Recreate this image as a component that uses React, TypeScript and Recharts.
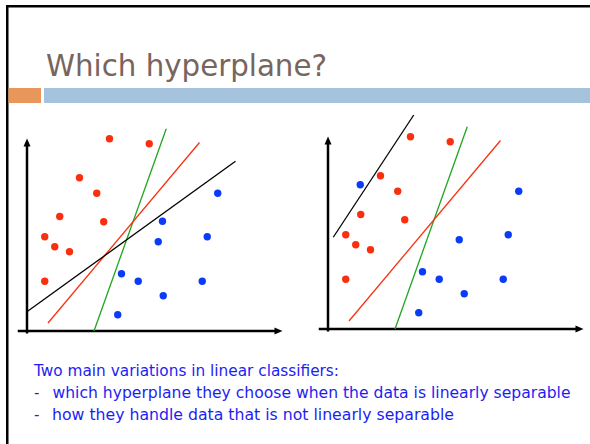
import React from 'react';
import { ScatterChart, Scatter, XAxis, YAxis } from 'recharts';

type Pt = { x: number; y: number };

// Same class-1 cloud in both panels
const redPoints: Pt[] = [
  { x: 3.3, y: 7.69 },
  { x: 4.89, y: 7.49 },
  { x: 2.1, y: 6.13 },
  { x: 2.79, y: 5.51 },
  { x: 1.31, y: 4.58 },
  { x: 3.07, y: 4.37 },
  { x: 0.71, y: 3.77 },
  { x: 1.11, y: 3.37 },
  { x: 1.7, y: 3.17 },
  { x: 0.71, y: 1.99 },
];

const bluePointsLeft: Pt[] = [
  { x: 7.63, y: 5.51 },
  { x: 5.42, y: 4.39 },
  { x: 7.21, y: 3.77 },
  { x: 5.25, y: 3.57 },
  { x: 3.78, y: 2.29 },
  { x: 4.45, y: 1.99 },
  { x: 7.01, y: 1.99 },
  { x: 5.45, y: 1.41 },
  { x: 3.63, y: 0.65 },
];

// right panel: one blue point sits inside the red cloud
const bluePointsRight: Pt[] = [
  { x: 1.29, y: 5.77 },
  { x: 7.63, y: 5.51 },
  { x: 7.21, y: 3.77 },
  { x: 5.25, y: 3.57 },
  { x: 3.78, y: 2.29 },
  { x: 4.45, y: 1.99 },
  { x: 7.01, y: 1.99 },
  { x: 5.45, y: 1.41 },
  { x: 3.63, y: 0.65 },
];

const greenLine: Pt[] = [{ x: 2.68, y: 0 }, { x: 5.57, y: 8.09 }];
const redLine: Pt[] = [{ x: 0.84, y: 0.32 }, { x: 6.9, y: 7.54 }];
const blackLineLeft: Pt[] = [{ x: 0.01, y: 0.78 }, { x: 8.34, y: 6.79 }];
const blackLineRight: Pt[] = [{ x: 0.21, y: 3.67 }, { x: 3.43, y: 8.56 }];

const xAxisLine: Pt[] = [{ x: -0.37, y: 0 }, { x: 10.05, y: 0 }];
const yAxisLine: Pt[] = [{ x: 0, y: -0.1 }, { x: 0, y: 7.55 }];
const xArrowTip: Pt[] = [{ x: 10.22, y: 0 }];
const yArrowTip: Pt[] = [{ x: 0, y: 7.7 }];

const titleText = 'Which hyperplane?';
const introText = 'Two main variations in linear classifiers:';
const bulletLines = [
  'which hyperplane they choose when the data is linearly separable',
  'how they handle data that is not linearly separable',
];

const RED = '#f9300f';
const BLUE = '#0a3cf8';
const GREEN = '#1fa51f';
const TEXT_BLUE = '#1e1ef2';

const noMark = () => <g />;

const dot = (color: string) => (p: any) => (
  <circle cx={p.cx} cy={p.cy} r={3.7} fill={color} />
);

const arrowRight = (p: any) => (
  <polygon
    points={`${p.cx},${p.cy} ${p.cx - 8},${p.cy - 3.5} ${p.cx - 8},${p.cy + 3.5}`}
    fill="#000"
  />
);

const arrowUp = (p: any) => (
  <polygon
    points={`${p.cx},${p.cy} ${p.cx - 3.5},${p.cy + 8} ${p.cx + 3.5},${p.cy + 8}`}
    fill="#000"
  />
);

interface PanelProps {
  left: number;
  top: number;
  blue: Pt[];
  black: Pt[];
}

function Panel({ left, top, blue, black }: PanelProps) {
  return (
    <div style={{ position: 'absolute', left, top }}>
      <ScatterChart width={270} height={230} margin={{ top: 0, right: 0, bottom: 0, left: 0 }}>
        <XAxis type="number" dataKey="x" domain={[-0.4, 10.4]} hide allowDataOverflow />
        <YAxis type="number" dataKey="y" domain={[-0.2, 9]} hide allowDataOverflow />
        <Scatter data={xAxisLine} line={{ stroke: '#000', strokeWidth: 2.5 }} shape={noMark} isAnimationActive={false} />
        <Scatter data={yAxisLine} line={{ stroke: '#000', strokeWidth: 2.5 }} shape={noMark} isAnimationActive={false} />
        <Scatter data={xArrowTip} shape={arrowRight} isAnimationActive={false} />
        <Scatter data={yArrowTip} shape={arrowUp} isAnimationActive={false} />
        <Scatter data={greenLine} line={{ stroke: GREEN, strokeWidth: 1.3 }} shape={noMark} isAnimationActive={false} />
        <Scatter data={redLine} line={{ stroke: RED, strokeWidth: 1.3 }} shape={noMark} isAnimationActive={false} />
        <Scatter data={black} line={{ stroke: '#000', strokeWidth: 1.3 }} shape={noMark} isAnimationActive={false} />
        <Scatter data={redPoints} shape={dot(RED)} isAnimationActive={false} />
        <Scatter data={blue} shape={dot(BLUE)} isAnimationActive={false} />
      </ScatterChart>
    </div>
  );
}

export default function App() {
  const font = '"DejaVu Sans", sans-serif';
  return (
    <div style={{ position: 'absolute', left: 0, top: 0, width: 590, height: 444, background: '#fff', overflow: 'hidden' }}>
      <svg width={590} height={444} style={{ position: 'absolute', left: 0, top: 0 }}>
        {/* slide frame */}
        <rect x={6} y={5} width={590} height={2.5} fill="#000" />
        <rect x={6} y={5} width={2.5} height={444} fill="#000" />
        <rect x={8.5} y={88} width={32.5} height={15} fill="#e8965a" />
        <rect x={44} y={88} width={546} height={15} fill="#a5c3dc" />
        <text x={46} y={76} fontFamily={font} fontSize={30} fill="#78655d" textLength={281} lengthAdjust="spacingAndGlyphs">
          {titleText}
        </text>
        <text x={34} y={375.5} fontFamily={font} fontSize={15} fill={TEXT_BLUE} textLength={305} lengthAdjust="spacingAndGlyphs">
          {introText}
        </text>
        <text x={34} y={398} fontFamily={font} fontSize={15} fill={TEXT_BLUE}>-</text>
        <text x={52.5} y={398} fontFamily={font} fontSize={15} fill={TEXT_BLUE} textLength={518} lengthAdjust="spacingAndGlyphs">
          {bulletLines[0]}
        </text>
        <text x={34} y={419.5} fontFamily={font} fontSize={15} fill={TEXT_BLUE}>-</text>
        <text x={52} y={419.5} fontFamily={font} fontSize={15} fill={TEXT_BLUE} textLength={402} lengthAdjust="spacingAndGlyphs">
          {bulletLines[1]}
        </text>
      </svg>
      <Panel left={16.5} top={105.5} blue={bluePointsLeft} black={blackLineLeft} />
      <Panel left={317.5} top={104} blue={bluePointsRight} black={blackLineRight} />
    </div>
  );
}
